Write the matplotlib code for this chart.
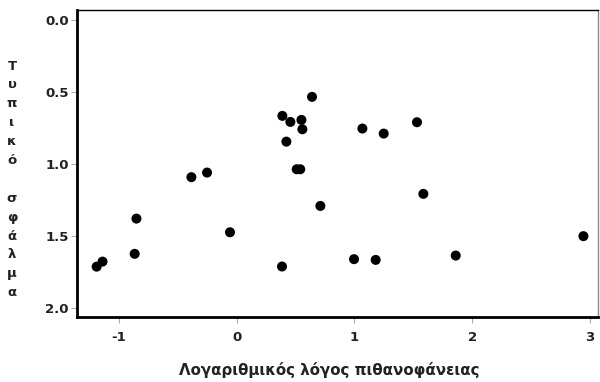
import matplotlib
matplotlib.use("Agg")
import matplotlib.pyplot as plt

log_or = [-1.19, -1.14, -0.867, -0.852, -0.385, -0.252, -0.057, 0.385, 0.388, 0.456,
          0.422, 0.550, 0.558, 0.51, 0.54, 0.640, 0.711, 1.068, 1.249, 0.997,
          1.181, 1.532, 1.586, 1.861, 2.946]
std_err = [1.712, 1.677, 1.623, 1.378, 1.090, 1.058, 1.473, 1.711, 0.664, 0.706,
           0.843, 0.692, 0.757, 1.035, 1.035, 0.532, 1.290, 0.752, 0.787, 1.660,
           1.665, 0.708, 1.206, 1.635, 1.500]

xticks = [-1, 0, 1, 2, 3]
yticks = [0.0, 0.5, 1.0, 1.5, 2.0]
xlabel = "Λογαριθμικός λόγος πιθανοφάνειας"
ylabel = "Τυπικό σφάλμα"

plt.rcParams['font.family'] = ['DejaVu Sans']
fig = plt.figure(figsize=(6.0, 3.82), dpi=100)
ax = fig.add_axes([77/600, 1-317/382, (598-77)/600, (317-10)/382])
ax.scatter(log_or, std_err, s=52, color='black', edgecolors='none', zorder=3)
ax.set_xlim(-1.357, 3.07)
ax.set_ylim(2.062, -0.072)
ax.set_xticks(xticks)
ax.set_xticklabels([f"{t:d}" for t in xticks])
ax.set_yticks(yticks)
ax.set_yticklabels([f"{t:.1f}" for t in yticks])
for lab in ax.get_xticklabels() + ax.get_yticklabels():
    lab.set_fontweight('bold')
    lab.set_fontsize(9.5)
    lab.set_color('#222222')
ax.tick_params(direction='out', length=4, width=0.8, color='#aaaaaa', pad=2)
ax.tick_params(axis='x', pad=6)
ax.spines['left'].set_linewidth(2.0)
ax.spines['bottom'].set_linewidth(2.0)
ax.spines['top'].set_linewidth(1.0)
ax.spines['right'].set_linewidth(1.0)
ax.spines['right'].set_color('#888888')

fig.text(329/600, 1 - 370/382, xlabel, ha='center', va='center',
         fontsize=10.8, fontweight='bold', color='#222222')

# vertical stacked y label
y0 = 1 - 66/382
step = 18.9/382
for i, ch in enumerate(ylabel):
    if ch == ' ':
        continue
    fig.text(12/600, y0 - i*step, ch, ha='center', va='center',
             fontsize=9.5, fontweight='bold', color='#222222')

fig.savefig("out.png", dpi=100)
